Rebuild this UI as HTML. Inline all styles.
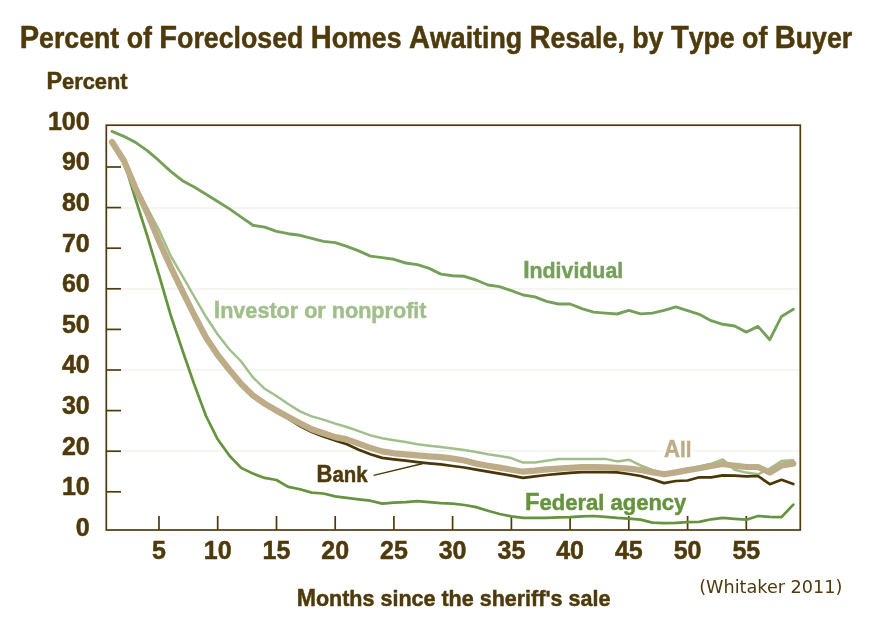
<!DOCTYPE html>
<html><head><meta charset="utf-8"><title>Percent of Foreclosed Homes Awaiting Resale, by Type of Buyer</title>
<style>html,body{margin:0;padding:0;background:#fff;}svg{display:block;will-change:transform;}</style></head>
<body>
<svg width="875" height="618" viewBox="0 0 875 618">
<rect width="875" height="618" fill="#fff"/>
<line x1="121" y1="208.0" x2="799" y2="208.0" stroke="#f3f0e8" stroke-width="1.4"/>
<line x1="121" y1="289.0" x2="799" y2="289.0" stroke="#f3f0e8" stroke-width="1.4"/>
<line x1="121" y1="369.9" x2="799" y2="369.9" stroke="#f3f0e8" stroke-width="1.4"/>
<line x1="121" y1="450.9" x2="799" y2="450.9" stroke="#f3f0e8" stroke-width="1.4"/>
<rect x="106.3" y="125.2" width="694.0" height="404.8" fill="none" stroke="#4e3a0b" stroke-width="1.7"/>
<line x1="106" y1="491.8" x2="121" y2="491.8" stroke="#4e3a0b" stroke-width="1.7"/>
<line x1="106" y1="451.2" x2="121" y2="451.2" stroke="#4e3a0b" stroke-width="1.7"/>
<line x1="106" y1="410.6" x2="121" y2="410.6" stroke="#4e3a0b" stroke-width="1.7"/>
<line x1="106" y1="370.0" x2="121" y2="370.0" stroke="#4e3a0b" stroke-width="1.7"/>
<line x1="106" y1="329.4" x2="121" y2="329.4" stroke="#4e3a0b" stroke-width="1.7"/>
<line x1="106" y1="288.8" x2="121" y2="288.8" stroke="#4e3a0b" stroke-width="1.7"/>
<line x1="106" y1="248.2" x2="121" y2="248.2" stroke="#4e3a0b" stroke-width="1.7"/>
<line x1="106" y1="207.6" x2="121" y2="207.6" stroke="#4e3a0b" stroke-width="1.7"/>
<line x1="106" y1="167.0" x2="121" y2="167.0" stroke="#4e3a0b" stroke-width="1.7"/>
<line x1="159.0" y1="516" x2="159.0" y2="530" stroke="#4e3a0b" stroke-width="1.7"/>
<line x1="217.7" y1="516" x2="217.7" y2="530" stroke="#4e3a0b" stroke-width="1.7"/>
<line x1="276.5" y1="516" x2="276.5" y2="530" stroke="#4e3a0b" stroke-width="1.7"/>
<line x1="335.2" y1="516" x2="335.2" y2="530" stroke="#4e3a0b" stroke-width="1.7"/>
<line x1="393.9" y1="516" x2="393.9" y2="530" stroke="#4e3a0b" stroke-width="1.7"/>
<line x1="452.6" y1="516" x2="452.6" y2="530" stroke="#4e3a0b" stroke-width="1.7"/>
<line x1="511.4" y1="516" x2="511.4" y2="530" stroke="#4e3a0b" stroke-width="1.7"/>
<line x1="570.1" y1="516" x2="570.1" y2="530" stroke="#4e3a0b" stroke-width="1.7"/>
<line x1="628.8" y1="516" x2="628.8" y2="530" stroke="#4e3a0b" stroke-width="1.7"/>
<line x1="687.6" y1="516" x2="687.6" y2="530" stroke="#4e3a0b" stroke-width="1.7"/>
<line x1="746.3" y1="516" x2="746.3" y2="530" stroke="#4e3a0b" stroke-width="1.7"/>
<g fill="none" stroke-linejoin="round" stroke-linecap="round">
<polyline points="112.0,142.0 123.8,160.5 135.5,199.0 147.3,236.0 159.0,275.0 170.7,315.2 182.5,350.5 194.2,384.3 206.0,416.0 217.7,439.3 229.5,455.7 241.2,467.9 253.0,473.6 264.7,477.9 276.5,480.0 288.2,486.9 300.0,489.3 311.7,492.6 323.4,493.5 335.2,496.4 346.9,497.9 358.7,499.3 370.4,500.7 382.2,503.6 393.9,502.6 405.7,502.1 417.4,501.1 429.2,502.1 440.9,503.1 452.6,503.6 464.4,505.0 476.1,507.1 487.9,510.7 499.6,514.0 511.4,516.4 523.1,517.9 534.9,517.9 546.6,517.9 558.4,517.4 570.1,517.1 581.9,516.4 593.6,516.0 605.3,516.9 617.1,517.9 628.8,518.6 640.6,519.6 652.3,522.6 664.1,523.1 675.8,522.9 687.6,522.1 699.3,521.9 711.1,519.3 722.8,517.9 734.6,518.9 746.3,519.7 758.0,516.0 769.8,516.9 781.5,517.1 793.3,504.6" stroke="#65933e" stroke-width="2.7"/>
<polyline points="112.0,131.4 123.8,136.3 135.5,142.4 147.3,150.6 159.0,160.7 170.7,171.4 182.5,180.7 194.2,187.1 206.0,194.3 217.7,201.4 229.5,208.9 241.2,217.1 253.0,225.3 264.7,227.1 276.5,231.4 288.2,233.7 300.0,235.3 311.7,238.3 323.4,241.4 335.2,242.6 346.9,246.3 358.7,250.9 370.4,256.1 382.2,257.6 393.9,259.3 405.7,263.0 417.4,264.6 429.2,268.4 440.9,274.1 452.6,275.7 464.4,276.3 476.1,280.0 487.9,285.0 499.6,286.6 511.4,290.7 523.1,295.0 534.9,296.9 546.6,301.4 558.4,304.0 570.1,304.0 581.9,308.6 593.6,312.1 605.3,313.1 617.1,314.0 628.8,310.4 640.6,313.9 652.3,313.1 664.1,310.3 675.8,306.9 687.6,310.7 699.3,314.3 711.1,320.7 722.8,324.3 734.6,326.0 746.3,332.1 758.0,326.4 769.8,339.7 781.5,316.4 793.3,309.3" stroke="#76a05a" stroke-width="2.9"/>
<polyline points="112.0,142.0 123.8,160.0 135.5,186.0 147.3,208.0 159.0,230.0 170.7,256.0 182.5,276.2 194.2,296.5 206.0,316.8 217.7,334.5 229.5,349.5 241.2,361.5 253.0,377.4 264.7,388.8 276.5,396.0 288.2,404.0 300.0,411.4 311.7,416.4 323.4,419.6 335.2,423.6 346.9,427.0 358.7,431.1 370.4,435.4 382.2,438.3 393.9,440.3 405.7,442.1 417.4,444.3 429.2,445.7 440.9,447.1 452.6,448.6 464.4,450.0 476.1,452.1 487.9,454.3 499.6,456.0 511.4,458.1 523.1,462.6 534.9,462.6 546.6,460.7 558.4,458.9 570.1,458.9 581.9,459.1 593.6,458.9 605.3,458.9 617.1,461.4 628.8,459.7 640.6,465.4 652.3,470.0 664.1,473.6 675.8,471.0 687.6,468.5 699.3,466.4 711.1,463.8 722.8,459.5 734.6,469.8 746.3,472.6 758.0,474.3 769.8,468.6 781.5,461.0 793.3,460.2" stroke="#a0bf8b" stroke-width="2.5"/>
<polyline points="112.0,143.0 123.8,161.5 135.5,189.0 147.3,214.0 159.0,242.0 170.7,268.0 182.5,292.3 194.2,316.0 206.0,338.5 217.7,356.0 229.5,371.5 241.2,385.5 253.0,397.0 264.7,405.1 276.5,412.0 288.2,418.5 300.0,426.0 311.7,432.0 323.4,436.5 335.2,440.5 346.9,444.3 358.7,449.7 370.4,454.3 382.2,457.9 393.9,459.3 405.7,460.7 417.4,462.1 429.2,463.3 440.9,464.3 452.6,466.0 464.4,467.5 476.1,469.7 487.9,471.7 499.6,473.6 511.4,475.7 523.1,477.9 534.9,476.4 546.6,475.0 558.4,473.9 570.1,472.9 581.9,472.1 593.6,472.1 605.3,472.1 617.1,472.4 628.8,474.0 640.6,476.0 652.3,479.3 664.1,483.1 675.8,481.0 687.6,480.5 699.3,477.3 711.1,477.4 722.8,475.4 734.6,475.7 746.3,476.3 758.0,476.0 769.8,484.2 781.5,479.8 793.3,484.0" stroke="#4a3609" stroke-width="2.7"/>
<polyline points="112.0,142.0 123.8,160.5 135.5,188.0 147.3,213.0 159.0,241.0 170.7,267.0 182.5,291.3 194.2,315.0 206.0,337.5 217.7,355.0 229.5,370.0 241.2,384.0 253.0,395.5 264.7,403.6 276.5,410.5 288.2,417.0 300.0,423.3 311.7,429.3 323.4,433.3 335.2,437.1 346.9,439.4 358.7,443.6 370.4,447.9 382.2,451.4 393.9,453.3 405.7,454.3 417.4,455.4 429.2,456.4 440.9,457.1 452.6,458.6 464.4,460.5 476.1,463.6 487.9,465.7 499.6,467.6 511.4,469.7 523.1,471.7 534.9,470.7 546.6,469.4 558.4,468.6 570.1,467.9 581.9,467.1 593.6,467.1 605.3,467.4 617.1,467.9 628.8,468.6 640.6,470.0 652.3,472.1 664.1,474.3 675.8,472.4 687.6,470.2 699.3,468.3 711.1,466.0 722.8,464.0 734.6,465.7 746.3,467.0 758.0,467.0 769.8,472.5 781.5,465.5 793.3,463.6" stroke="#bdac88" stroke-width="6.2"/>
</g>
<line x1="373.6" y1="475.3" x2="423" y2="463.5" stroke="#4a3609" stroke-width="1.3"/>
<text x="89.7" y="535.8" font-family="'Liberation Sans', Arial, sans-serif" font-weight="bold" font-size="25" fill="#4e3a0b" text-anchor="end" stroke="#4e3a0b" stroke-width="0.5">0</text>
<text x="89.7" y="495.2" font-family="'Liberation Sans', Arial, sans-serif" font-weight="bold" font-size="25" fill="#4e3a0b" text-anchor="end" stroke="#4e3a0b" stroke-width="0.5">10</text>
<text x="89.7" y="454.6" font-family="'Liberation Sans', Arial, sans-serif" font-weight="bold" font-size="25" fill="#4e3a0b" text-anchor="end" stroke="#4e3a0b" stroke-width="0.5">20</text>
<text x="89.7" y="414.0" font-family="'Liberation Sans', Arial, sans-serif" font-weight="bold" font-size="25" fill="#4e3a0b" text-anchor="end" stroke="#4e3a0b" stroke-width="0.5">30</text>
<text x="89.7" y="373.4" font-family="'Liberation Sans', Arial, sans-serif" font-weight="bold" font-size="25" fill="#4e3a0b" text-anchor="end" stroke="#4e3a0b" stroke-width="0.5">40</text>
<text x="89.7" y="332.8" font-family="'Liberation Sans', Arial, sans-serif" font-weight="bold" font-size="25" fill="#4e3a0b" text-anchor="end" stroke="#4e3a0b" stroke-width="0.5">50</text>
<text x="89.7" y="292.2" font-family="'Liberation Sans', Arial, sans-serif" font-weight="bold" font-size="25" fill="#4e3a0b" text-anchor="end" stroke="#4e3a0b" stroke-width="0.5">60</text>
<text x="89.7" y="251.6" font-family="'Liberation Sans', Arial, sans-serif" font-weight="bold" font-size="25" fill="#4e3a0b" text-anchor="end" stroke="#4e3a0b" stroke-width="0.5">70</text>
<text x="89.7" y="211.0" font-family="'Liberation Sans', Arial, sans-serif" font-weight="bold" font-size="25" fill="#4e3a0b" text-anchor="end" stroke="#4e3a0b" stroke-width="0.5">80</text>
<text x="89.7" y="170.4" font-family="'Liberation Sans', Arial, sans-serif" font-weight="bold" font-size="25" fill="#4e3a0b" text-anchor="end" stroke="#4e3a0b" stroke-width="0.5">90</text>
<text x="89.7" y="129.8" font-family="'Liberation Sans', Arial, sans-serif" font-weight="bold" font-size="25" fill="#4e3a0b" text-anchor="end" stroke="#4e3a0b" stroke-width="0.5">100</text>
<text x="159.0" y="559.0" font-family="'Liberation Sans', Arial, sans-serif" font-weight="bold" font-size="25" fill="#4e3a0b" text-anchor="middle" stroke="#4e3a0b" stroke-width="0.5">5</text>
<text x="217.7" y="559.0" font-family="'Liberation Sans', Arial, sans-serif" font-weight="bold" font-size="25" fill="#4e3a0b" text-anchor="middle" stroke="#4e3a0b" stroke-width="0.5">10</text>
<text x="276.5" y="559.0" font-family="'Liberation Sans', Arial, sans-serif" font-weight="bold" font-size="25" fill="#4e3a0b" text-anchor="middle" stroke="#4e3a0b" stroke-width="0.5">15</text>
<text x="335.2" y="559.0" font-family="'Liberation Sans', Arial, sans-serif" font-weight="bold" font-size="25" fill="#4e3a0b" text-anchor="middle" stroke="#4e3a0b" stroke-width="0.5">20</text>
<text x="393.9" y="559.0" font-family="'Liberation Sans', Arial, sans-serif" font-weight="bold" font-size="25" fill="#4e3a0b" text-anchor="middle" stroke="#4e3a0b" stroke-width="0.5">25</text>
<text x="452.6" y="559.0" font-family="'Liberation Sans', Arial, sans-serif" font-weight="bold" font-size="25" fill="#4e3a0b" text-anchor="middle" stroke="#4e3a0b" stroke-width="0.5">30</text>
<text x="511.4" y="559.0" font-family="'Liberation Sans', Arial, sans-serif" font-weight="bold" font-size="25" fill="#4e3a0b" text-anchor="middle" stroke="#4e3a0b" stroke-width="0.5">35</text>
<text x="570.1" y="559.0" font-family="'Liberation Sans', Arial, sans-serif" font-weight="bold" font-size="25" fill="#4e3a0b" text-anchor="middle" stroke="#4e3a0b" stroke-width="0.5">40</text>
<text x="628.8" y="559.0" font-family="'Liberation Sans', Arial, sans-serif" font-weight="bold" font-size="25" fill="#4e3a0b" text-anchor="middle" stroke="#4e3a0b" stroke-width="0.5">45</text>
<text x="687.6" y="559.0" font-family="'Liberation Sans', Arial, sans-serif" font-weight="bold" font-size="25" fill="#4e3a0b" text-anchor="middle" stroke="#4e3a0b" stroke-width="0.5">50</text>
<text x="746.3" y="559.0" font-family="'Liberation Sans', Arial, sans-serif" font-weight="bold" font-size="25" fill="#4e3a0b" text-anchor="middle" stroke="#4e3a0b" stroke-width="0.5">55</text>
<text x="19.64" y="48.0" font-family="'Liberation Sans', Arial, sans-serif" font-weight="bold" font-size="28.7" fill="#4e3a0b" text-anchor="start" textLength="832.61" lengthAdjust="spacingAndGlyphs" stroke="#4e3a0b" stroke-width="0.5"><tspan font-size="31.2">P</tspan>ercent of <tspan font-size="31.2">F</tspan>oreclosed <tspan font-size="31.2">H</tspan>omes <tspan font-size="31.2">A</tspan>waiting <tspan font-size="31.2">R</tspan>esale, by <tspan font-size="31.2">T</tspan>ype of <tspan font-size="31.2">B</tspan>uyer</text>
<text x="46.44" y="89.0" font-family="'Liberation Sans', Arial, sans-serif" font-weight="bold" font-size="22.9" fill="#4e3a0b" text-anchor="start" textLength="81.1" lengthAdjust="spacingAndGlyphs" stroke="#4e3a0b" stroke-width="0.5"><tspan font-size="24.6">P</tspan>ercent</text>
<text x="296.66" y="605.8" font-family="'Liberation Sans', Arial, sans-serif" font-weight="bold" font-size="22.9" fill="#4e3a0b" text-anchor="start" textLength="313.7" lengthAdjust="spacingAndGlyphs" stroke="#4e3a0b" stroke-width="0.5"><tspan font-size="24.6">M</tspan>onths since the sheriff's sale</text>
<text x="523.14" y="278.0" font-family="'Liberation Sans', Arial, sans-serif" font-weight="bold" font-size="22.9" fill="#76a05a" text-anchor="start" textLength="100.08" lengthAdjust="spacingAndGlyphs" stroke="#76a05a" stroke-width="0.5"><tspan font-size="24.6">I</tspan>ndividual</text>
<text x="213.71" y="317.6" font-family="'Liberation Sans', Arial, sans-serif" font-weight="bold" font-size="22.9" fill="#a0bf8b" text-anchor="start" textLength="212.85" lengthAdjust="spacingAndGlyphs" stroke="#a0bf8b" stroke-width="0.5"><tspan font-size="24.6">I</tspan>nvestor or nonprofit</text>
<text x="664.03" y="457.0" font-family="'Liberation Sans', Arial, sans-serif" font-weight="bold" font-size="22.9" fill="#fff" text-anchor="start" textLength="27.49" lengthAdjust="spacingAndGlyphs" stroke="#fff" stroke-width="7"><tspan font-size="24.6">A</tspan>ll</text>
<text x="664.03" y="457.0" font-family="'Liberation Sans', Arial, sans-serif" font-weight="bold" font-size="22.9" fill="#bdac88" text-anchor="start" textLength="27.49" lengthAdjust="spacingAndGlyphs" stroke="#bdac88" stroke-width="0.5"><tspan font-size="24.6">A</tspan>ll</text>
<text x="316.61" y="481.9" font-family="'Liberation Sans', Arial, sans-serif" font-weight="bold" font-size="22.9" fill="#4e3a0b" text-anchor="start" textLength="51.05" lengthAdjust="spacingAndGlyphs" stroke="#4e3a0b" stroke-width="0.5"><tspan font-size="24.6">B</tspan>ank</text>
<text x="525.12" y="509.6" font-family="'Liberation Sans', Arial, sans-serif" font-weight="bold" font-size="22.9" fill="#65933e" text-anchor="start" textLength="161.19" lengthAdjust="spacingAndGlyphs" stroke="#65933e" stroke-width="0.5"><tspan font-size="24.6">F</tspan>ederal agency</text>
<text x="699.2" y="593.2" font-family="'DejaVu Sans', sans-serif" font-size="17.65" fill="#4e3a0b">(Whitaker 2011)</text>
</svg>
</body></html>
